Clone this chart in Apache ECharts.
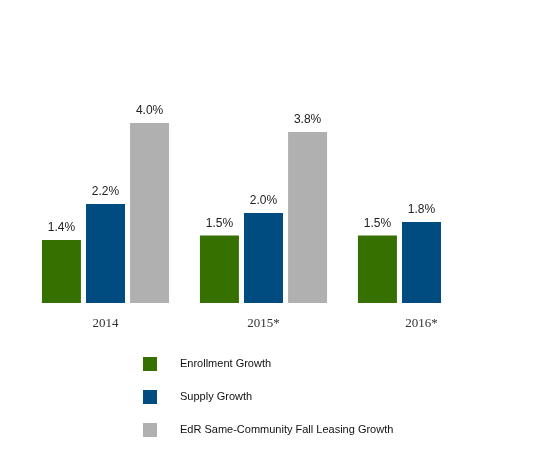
<!DOCTYPE html>
<html>
<head>
<meta charset="utf-8">
<script src="https://cdn.jsdelivr.net/npm/echarts@6/dist/echarts.min.js"></script>
<style>
  html, body { margin: 0; padding: 0; background: #fff; }
  #chart { width: 533px; height: 466px; }
</style>
</head>
<body>
<div id="chart"></div>
<script>
// data
var years = ['2014', '2015*', '2016*'];
var enrollment = [1.4, 1.5, 1.5];
var supply = [2.2, 2.0, 1.8];
var leasing = [4.0, 3.8, null];

var seriesNames = ['Enrollment Growth', 'Supply Growth', 'EdR Same-Community Fall Leasing Growth'];
var colors = ['#367000', '#004b80', '#b0b0b0'];

function barSeries(name, data, color) {
    return {
        name: name,
        type: 'bar',
        data: data,
        barWidth: 39,
        barGap: '13%',
        itemStyle: { color: color },
        label: {
            show: true,
            position: 'top',
            distance: 6,
            color: '#222',
            fontFamily: 'Liberation Sans, Arial',
            fontSize: 12,
            formatter: function (p) {
                return p.value.toFixed(1) + '%';
            }
        }
    };
}

var myChart = echarts.init(document.getElementById('chart'));
var option = {
    animation: false,
    color: colors,
    grid: { left: 26.5, width: 474, top: 123, bottom: 163 },
    legend: {
        orient: 'vertical',
        left: 138,
        top: 352,
        itemWidth: 14,
        itemHeight: 14,
        itemGap: 19,
        icon: 'rect',
        textStyle: {
            fontFamily: 'Liberation Sans, Arial',
            fontSize: 11,
            color: '#111',
            padding: [0, 0, 0, 18]
        },
        data: seriesNames
    },
    xAxis: {
        type: 'category',
        data: years,
        axisLine: { show: false },
        axisTick: { show: false },
        axisLabel: {
            margin: 14,
            fontFamily: 'Liberation Serif, Times New Roman',
            fontSize: 13,
            color: '#333'
        }
    },
    yAxis: {
        type: 'value',
        min: 0,
        max: 4,
        show: false
    },
    series: [
        barSeries(seriesNames[0], enrollment, colors[0]),
        barSeries(seriesNames[1], supply, colors[1]),
        barSeries(seriesNames[2], leasing, colors[2])
    ]
};
myChart.setOption(option);
</script>
</body>
</html>
